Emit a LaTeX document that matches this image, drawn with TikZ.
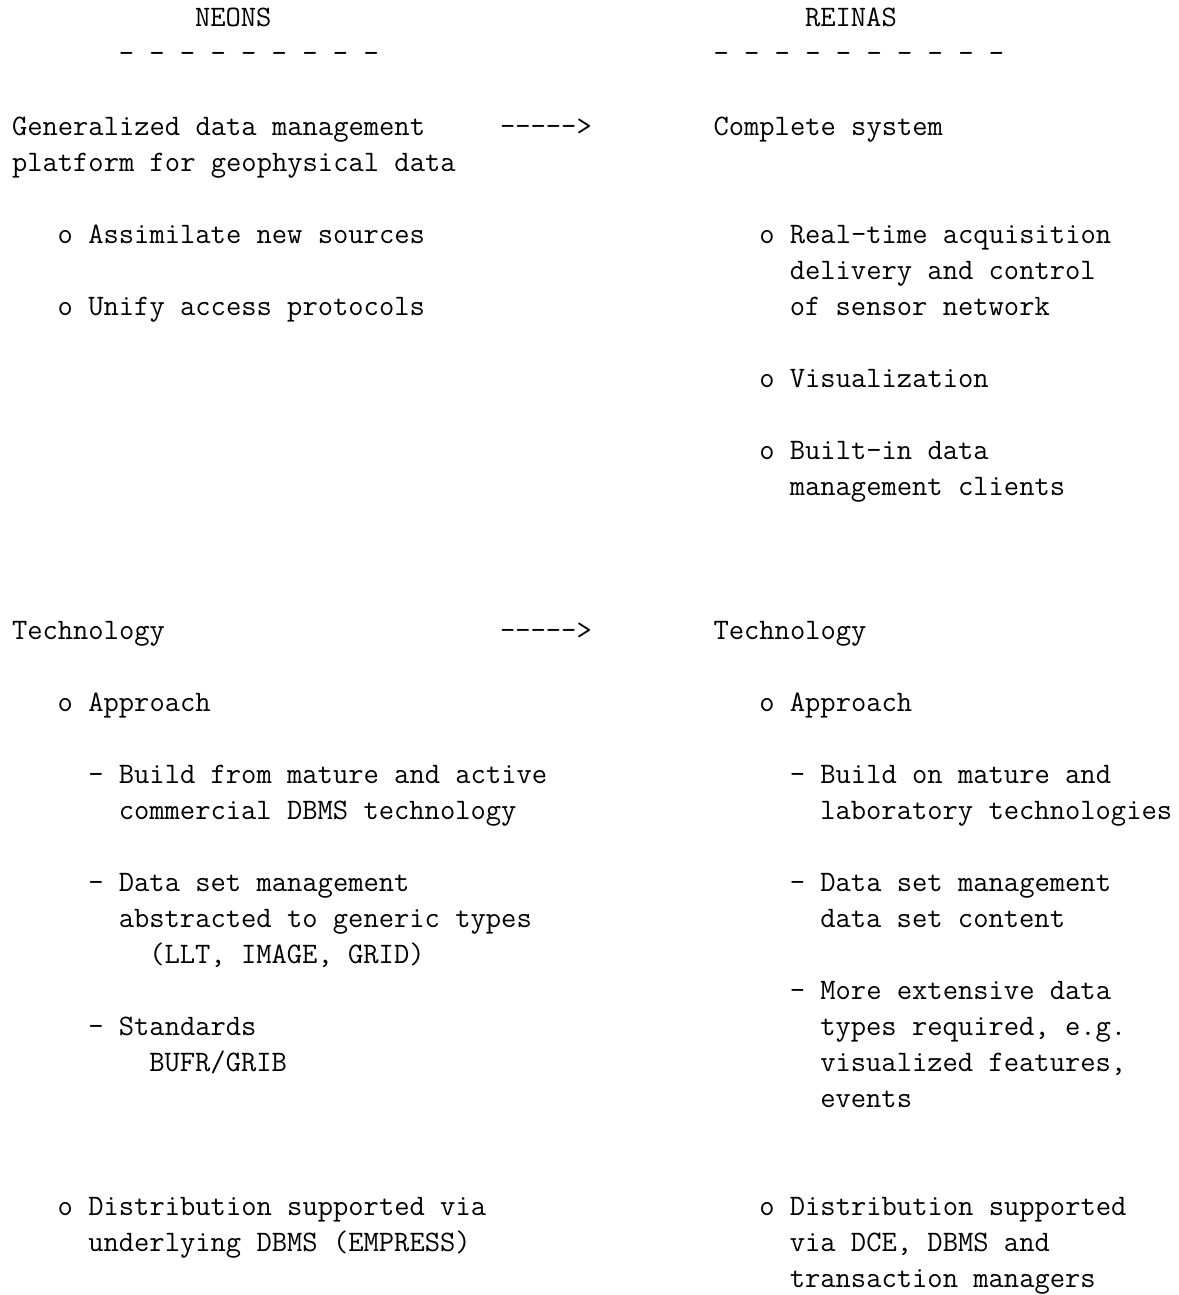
\documentclass[tikz,border=0pt]{standalone}
\begin{document}
\begin{tikzpicture}[
  txt/.style={anchor=base west, inner sep=0pt, outer sep=0pt,
    font=\fontsize{14.854pt}{18pt}\selectfont\ttfamily}
]
\useasboundingbox (0,0) rectangle (589pt,-647.5pt);
\newcommand{\Ln}[4]{\node[txt] (#1) at ({6pt+7.625pt*#2},{-13.5pt-18pt*#3}) {#4};}
% headers
\Ln{hN}{12}{0}{NEONS}
\Ln{hR}{52}{0}{REINAS}
\Ln{dN}{7}{1}{- - - - - - - - -}
\Ln{dR}{46}{1}{- - - - - - - - - -}
% block 1
\Ln{l3}{0}{3}{Generalized data management}
\Ln{a1}{32}{3}{-{}-{}-{}-{}->}
\Ln{r3}{46}{3}{Complete system}
\Ln{l4}{0}{4}{platform for geophysical data}
\Ln{l6}{3}{6}{o Assimilate new sources}
\Ln{r6}{49}{6}{o Real-time acquisition}
\Ln{r7}{51}{7}{delivery and control}
\Ln{l8}{3}{8}{o Unify access protocols}
\Ln{r8}{51}{8}{of sensor network}
\Ln{r10}{49}{10}{o Visualization}
\Ln{r12}{49}{12}{o Built-in data}
\Ln{r13}{51}{13}{management clients}
% block 2
\Ln{l17}{0}{17}{Technology}
\Ln{a2}{32}{17}{-{}-{}-{}-{}->}
\Ln{r17}{46}{17}{Technology}
\Ln{l19}{3}{19}{o Approach}
\Ln{r19}{49}{19}{o Approach}
\Ln{l21}{5}{21}{- Build from mature and active}
\Ln{r21}{51}{21}{- Build on mature and}
\Ln{l22}{7}{22}{commercial DBMS technology}
\Ln{r22}{53}{22}{laboratory technologies}
\Ln{l24}{5}{24}{- Data set management}
\Ln{r24}{51}{24}{- Data set management}
\Ln{l25}{7}{25}{abstracted to generic types}
\Ln{r25}{53}{25}{data set content}
\Ln{l26}{9}{26}{(LLT, IMAGE, GRID)}
\Ln{r27}{51}{27}{- More extensive data}
\Ln{l28}{5}{28}{- Standards}
\Ln{r28}{53}{28}{types required, e.g.}
\Ln{l29}{9}{29}{BUFR/GRIB}
\Ln{r29}{53}{29}{visualized features,}
\Ln{r30}{53}{30}{events}
\Ln{l33}{3}{33}{o Distribution supported via}
\Ln{r33}{49}{33}{o Distribution supported}
\Ln{l34}{5}{34}{underlying DBMS (EMPRESS)}
\Ln{r34}{51}{34}{via DCE, DBMS and}
\Ln{r35}{51}{35}{transaction managers}
\end{tikzpicture}
\end{document}
